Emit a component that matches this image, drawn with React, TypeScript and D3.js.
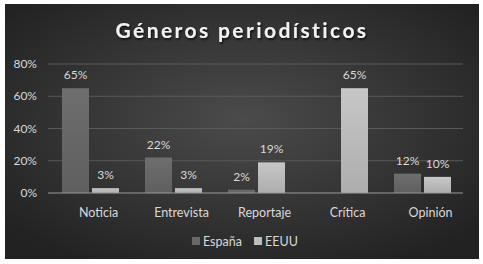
import React, { useEffect, useRef } from 'react';
import * as d3 from 'd3';

const categories = ['Noticia', 'Entrevista', 'Reportaje', 'Crítica', 'Opinión'];
const seriesNames = ['España', 'EEUU'];
const espana = [0.65, 0.22, 0.02, 0, 0.12];
const eeuu = [0.03, 0.03, 0.19, 0.65, 0.10];
const yTicks = [0, 0.2, 0.4, 0.6, 0.8];
const seriesColors = ['#686868', '#bdbdbd'];

const FONT = 'Lato, "Open Sans", sans-serif';

const App = () => {
    const svgRef = useRef<SVGSVGElement>(null);

    useEffect(() => {
        const width = 483;
        const height = 264;
        const margin = { top: 64, right: 20, bottom: 71, left: 48 };

        const svg = d3.select(svgRef.current);
        svg.selectAll('*').remove();
        svg.attr('width', width).attr('height', height);

        // background with radial gradient
        const defs = svg.append('defs');
        const rg = defs.append('radialGradient')
            .attr('id', 'bg')
            .attr('cx', '50%').attr('cy', '45%').attr('r', '65%');
        rg.append('stop').attr('offset', '0%').attr('stop-color', '#4b4b4b');
        rg.append('stop').attr('offset', '100%').attr('stop-color', '#222');

        seriesColors.forEach((c, i) => {
            const lg = defs.append('linearGradient')
                .attr('id', `bar${i}`)
                .attr('x1', 0).attr('y1', 0).attr('x2', 0).attr('y2', 1);
            lg.append('stop').attr('offset', '0%').attr('stop-color', d3.color(c).brighter(0.15).toString());
            lg.append('stop').attr('offset', '100%').attr('stop-color', d3.color(c).darker(0.25).toString());
        });

        const shadow = defs.append('filter').attr('id', 'shadow');
        shadow.append('feDropShadow')
            .attr('dx', 1).attr('dy', 1.5).attr('stdDeviation', 1.2)
            .attr('flood-color', '#000').attr('flood-opacity', 0.8);

        svg.append('rect')
            .attr('x', 5).attr('y', 4)
            .attr('width', 474).attr('height', 255)
            .attr('fill', 'url(#bg)');

        svg.append('text')
            .attr('x', 242).attr('y', 38)
            .attr('text-anchor', 'middle')
            .attr('font-family', FONT)
            .attr('font-size', 21)
            .attr('font-weight', 'bold')
            .attr('letter-spacing', 2.4)
            .attr('fill', '#f2f2f2')
            .attr('filter', 'url(#shadow)')
            .text('Géneros periodísticos');

        const plotW = width - margin.left - margin.right;
        const plotH = 193 - margin.top;

        const x0 = d3.scaleBand()
            .domain(categories)
            .range([0, plotW])
            .paddingInner(0)
            .paddingOuter(0);
        const x1 = d3.scaleBand()
            .domain(seriesNames)
            .range([14, x0.bandwidth() - 12])
            .paddingInner(0.1);
        const y = d3.scaleLinear().domain([0, 0.8]).range([plotH, 0]);

        const g = svg.append('g').attr('transform', `translate(${margin.left},${margin.top})`);

        // gridlines
        g.selectAll('.grid')
            .data(yTicks.filter(t => t > 0))
            .enter()
            .append('line')
            .attr('x1', 0).attr('x2', plotW)
            .attr('y1', d => y(d)).attr('y2', d => y(d))
            .attr('stroke', '#5a5a5a')
            .attr('stroke-width', 1);

        // y tick labels
        g.selectAll('.ytick')
            .data(yTicks)
            .enter()
            .append('text')
            .attr('x', -11)
            .attr('y', d => y(d) + 4)
            .attr('text-anchor', 'end')
            .attr('font-family', FONT)
            .attr('font-size', 12)
            .attr('fill', '#d9d9d9')
            .text(d => d3.format('.0%')(d));

        const rows = categories.map((c, i) => ({ category: c, values: [espana[i], eeuu[i]] }));

        const groups = g.selectAll('.cat')
            .data(rows)
            .enter()
            .append('g')
            .attr('transform', d => `translate(${x0(d.category)},0)`);

        groups.selectAll('rect')
            .data(d => d.values.map((v, i) => ({ name: seriesNames[i], value: v, i })))
            .enter()
            .append('rect')
            .attr('x', d => x1(d.name))
            .attr('y', d => y(d.value))
            .attr('width', x1.bandwidth())
            .attr('height', d => plotH - y(d.value))
            .attr('fill', d => `url(#bar${d.i})`);

        groups.selectAll('.val')
            .data(d => d.values.map((v, i) => ({ name: seriesNames[i], value: v })).filter(d => d.value > 0))
            .enter()
            .append('text')
            .attr('x', d => x1(d.name) + x1.bandwidth() / 2)
            .attr('y', d => y(d.value) - 9)
            .attr('text-anchor', 'middle')
            .attr('font-family', FONT)
            .attr('font-size', 12)
            .attr('fill', '#d9d9d9')
            .text(d => d3.format('.0%')(d.value));

        // baseline axis
        g.append('line')
            .attr('x1', 0).attr('x2', plotW)
            .attr('y1', plotH).attr('y2', plotH)
            .attr('stroke', '#9a9a9a')
            .attr('stroke-width', 1.2);

        // category labels
        g.selectAll('.cat-label')
            .data(categories)
            .enter()
            .append('text')
            .attr('x', d => x0(d) + x0.bandwidth() / 2 + 9)
            .attr('y', plotH + 24)
            .attr('text-anchor', 'middle')
            .attr('font-family', FONT)
            .attr('font-size', 12.5)
            .attr('fill', '#d9d9d9')
            .text(d => d);

        // legend
        const legend = svg.append('g').attr('transform', 'translate(192,241)');
        const legendX = [0, 62];
        seriesNames.forEach((name, i) => {
            legend.append('rect')
                .attr('x', legendX[i]).attr('y', -4)
                .attr('width', 8).attr('height', 8)
                .attr('fill', seriesColors[i]);
            legend.append('text')
                .attr('x', legendX[i] + 11)
                .attr('y', 4.5)
                .attr('font-family', FONT)
                .attr('font-size', 12.5)
                .attr('fill', '#d9d9d9')
                .text(name);
        });
    }, []);

    return <svg ref={svgRef} style={{ position: 'absolute', left: 0, top: 0 }}></svg>;
};

export default App;
